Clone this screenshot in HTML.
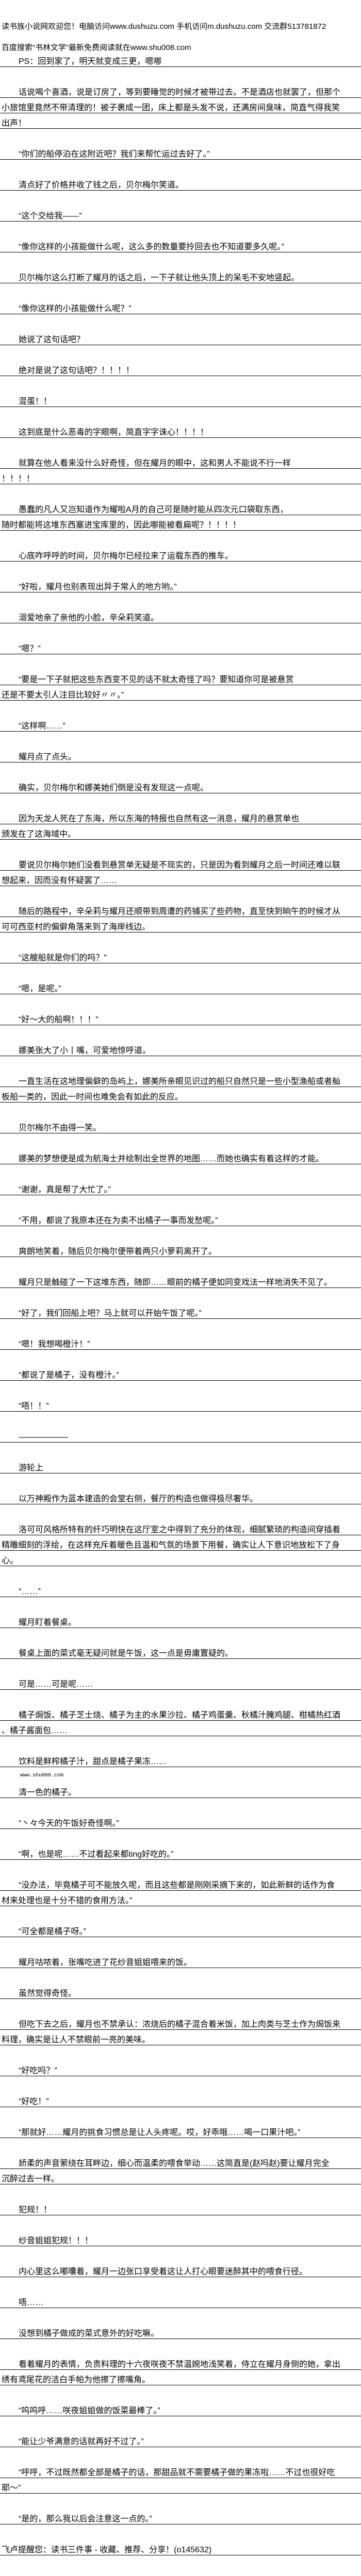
<!DOCTYPE html>
<html><head><meta charset="utf-8">
<style>
html{margin:0;padding:0;width:700px;height:5105px;overflow:hidden;background:#fff;}
body{margin:0;padding:0;background:#fff;width:700px;height:5105px;position:relative;overflow:hidden;font-family:"Liberation Sans","Noto Sans CJK SC",sans-serif;color:#000;}
.l{position:absolute;left:0;width:700px;height:30px;box-sizing:border-box;border-bottom:1px solid #000;font-size:16px;line-height:18px;padding-top:11px;padding-left:3px;white-space:nowrap;overflow:hidden;}
.i{padding-left:36px;}
.h{position:absolute;left:3px;font-size:15px;line-height:18px;height:18px;white-space:nowrap;overflow:hidden;}
.s{position:absolute;left:39px;font-size:10px;line-height:12px;white-space:nowrap;font-family:"Liberation Mono",monospace;}
</style></head><body>
<div class="h" style="top:43px">读书族小说网欢迎您！电脑访问www.dushuzu.com 手机访问m.dushuzu.com 交流群513781872</div>
<div class="h" style="top:84px">百度搜索“书林文学”最新免费阅读就在www.shu008.com</div>
<div class="l i" style="top:100px">PS：回到家了，明天就变成三更，嗯哪</div>
<div class="l i" style="top:160px">话说喝个喜酒，说是订房了，等到要睡觉的时候才被带过去。不是酒店也就罢了，但那个</div>
<div class="l" style="top:190px">小旅馆里竟然不带清理的！被子裹成一团，床上都是头发不说，还满房间臭味，简直气得我笑</div>
<div class="l" style="top:220px">出声！</div>
<div class="l i" style="top:280px">“你们的船停泊在这附近吧？我们来帮忙运过去好了。”</div>
<div class="l i" style="top:340px">清点好了价格并收了钱之后，贝尔梅尔笑道。</div>
<div class="l i" style="top:400px">“这个交给我——”</div>
<div class="l i" style="top:460px">“像你这样的小孩能做什么呢，这么多的数量要拎回去也不知道要多久呢。”</div>
<div class="l i" style="top:520px">贝尔梅尔这么打断了耀月的话之后，一下子就让他头顶上的呆毛不安地竖起。</div>
<div class="l i" style="top:580px">“像你这样的小孩能做什么呢？”</div>
<div class="l i" style="top:640px">她说了这句话吧？</div>
<div class="l i" style="top:700px">绝对是说了这句话吧？！！！！</div>
<div class="l i" style="top:760px">混蛋！！</div>
<div class="l i" style="top:820px">这到底是什么恶毒的字眼啊，简直字字诛心！！！！</div>
<div class="l i" style="top:880px">就算在他人看来没什么好奇怪，但在耀月的眼中，这和男人不能说不行一样</div>
<div class="l" style="top:910px">！！！！</div>
<div class="l i" style="top:970px">愚蠢的凡人又岂知道作为耀啦A月的自己可是随时能从四次元口袋取东西，</div>
<div class="l" style="top:1000px">随时都能将这堆东西塞进宝库里的，因此哪能被看扁呢？！！！！</div>
<div class="l i" style="top:1060px">心底咋呼呼的时间，贝尔梅尔已经拉来了运载东西的推车。</div>
<div class="l i" style="top:1120px">“好啦，耀月也别表现出异于常人的地方哟。”</div>
<div class="l i" style="top:1180px">溺爱地亲了亲他的小脸，辛朵莉笑道。</div>
<div class="l i" style="top:1240px">“嗯？”</div>
<div class="l i" style="top:1300px">“要是一下子就把这些东西变不见的话不就太奇怪了吗？要知道你可是被悬赏</div>
<div class="l" style="top:1330px">还是不要太引人注目比较好〃〃。”</div>
<div class="l i" style="top:1390px">“这样啊……”</div>
<div class="l i" style="top:1450px">耀月点了点头。</div>
<div class="l i" style="top:1510px">确实，贝尔梅尔和娜美她们倒是没有发现这一点呢。</div>
<div class="l i" style="top:1570px">因为天龙人死在了东海，所以东海的特报也自然有这一消息，耀月的悬赏单也</div>
<div class="l" style="top:1600px">颁发在了这海域中。</div>
<div class="l i" style="top:1660px">要说贝尔梅尔她们没看到悬赏单无疑是不现实的，只是因为看到耀月之后一时间还难以联</div>
<div class="l" style="top:1690px">想起来，因而没有怀疑罢了……</div>
<div class="l i" style="top:1750px">随后的路程中，辛朵莉与耀月还顺带到周遭的药铺买了些药物，直至快到晌午的时候才从</div>
<div class="l" style="top:1780px">可可西亚村的偏僻角落来到了海岸线边。</div>
<div class="l i" style="top:1840px">“这艘船就是你们的吗？”</div>
<div class="l i" style="top:1900px">“嗯，是呢。”</div>
<div class="l i" style="top:1960px">“好～大的船啊！！！”</div>
<div class="l i" style="top:2020px">娜美张大了小丨嘴，可爱地惊呼道。</div>
<div class="l i" style="top:2080px">一直生活在这地理偏僻的岛屿上，娜美所亲眼见识过的船只自然只是一些小型渔船或者舢</div>
<div class="l" style="top:2110px">板船一类的，因此一时间也难免会有如此的反应。</div>
<div class="l i" style="top:2170px">贝尔梅尔不由得一笑。</div>
<div class="l i" style="top:2230px">娜美的梦想便是成为航海士并绘制出全世界的地图……而她也确实有着这样的才能。</div>
<div class="l i" style="top:2290px">“谢谢，真是帮了大忙了。”</div>
<div class="l i" style="top:2350px">“不用，都说了我原本还在为卖不出橘子一事而发愁呢。”</div>
<div class="l i" style="top:2410px">爽朗地笑着，随后贝尔梅尔便带着两只小萝莉离开了。</div>
<div class="l i" style="top:2470px">耀月只是触碰了一下这堆东西，随即……眼前的橘子便如同变戏法一样地消失不见了。</div>
<div class="l i" style="top:2530px">“好了，我们回船上吧？马上就可以开始午饭了呢。”</div>
<div class="l i" style="top:2590px">“嗯！我想喝橙汁！”</div>
<div class="l i" style="top:2650px">“都说了是橘子，没有橙汁。”</div>
<div class="l i" style="top:2710px">“唔！！”</div>
<div class="l i" style="top:2770px">——————</div>
<div class="l i" style="top:2830px">游轮上</div>
<div class="l i" style="top:2890px">以万神殿作为蓝本建造的会堂右侧，餐厅的构造也做得极尽奢华。</div>
<div class="l i" style="top:2950px">洛可可风格所特有的纤巧明快在这厅室之中得到了充分的体现，细腻繁琐的构造间穿插着</div>
<div class="l" style="top:2980px">精雕细刻的浮绘，在这样充斥着暖色且温和气氛的场景下用餐，确实让人下意识地放松下了身</div>
<div class="l" style="top:3010px">心。</div>
<div class="l i" style="top:3070px">“……”</div>
<div class="l i" style="top:3130px">耀月盯着餐桌。</div>
<div class="l i" style="top:3190px">餐桌上面的菜式毫无疑问就是午饭，这一点是毋庸置疑的。</div>
<div class="l i" style="top:3250px">可是……可是呢……</div>
<div class="l i" style="top:3310px">橘子焗饭、橘子芝士烧、橘子为主的水果沙拉、橘子鸡蛋羹、秋橘汁腌鸡腿、柑橘热红酒</div>
<div class="l" style="top:3340px">、橘子酱面包……</div>
<div class="l i" style="top:3400px">饮料是鲜榨橘子汁，甜点是橘子果冻……</div>
<div class="s" style="top:3441px">www.shu008.com</div>
<div class="l i" style="top:3460px">清一色的橘子。</div>
<div class="l i" style="top:3520px">“丶々今天的午饭好奇怪啊。”</div>
<div class="l i" style="top:3580px">“啊，也是呢……不过看起来都ting好吃的。”</div>
<div class="l i" style="top:3640px">“没办法，毕竟橘子可不能放久呢，而且这些都是刚刚采摘下来的，如此新鲜的话作为食</div>
<div class="l" style="top:3670px">材来处理也是十分不错的食用方法。”</div>
<div class="l i" style="top:3730px">“可全都是橘子呀。”</div>
<div class="l i" style="top:3790px">耀月咕哝着，张嘴吃进了花纱音姐姐喂来的饭。</div>
<div class="l i" style="top:3850px">虽然觉得奇怪。</div>
<div class="l i" style="top:3910px">但吃下去之后，耀月也不禁承认：浓烧后的橘子混合着米饭，加上肉类与芝士作为焗饭来</div>
<div class="l" style="top:3940px">料理，确实是让人不禁眼前一亮的美味。</div>
<div class="l i" style="top:4000px">“好吃吗？”</div>
<div class="l i" style="top:4060px">“好吃！”</div>
<div class="l i" style="top:4120px">“那就好……耀月的挑食习惯总是让人头疼呢。哎，好乖哦……喝一口果汁吧。”</div>
<div class="l i" style="top:4180px">娇柔的声音萦绕在耳畔边，细心而温柔的喂食举动……这简直是(赵吗赵)要让耀月完全</div>
<div class="l" style="top:4210px">沉醉过去一样。</div>
<div class="l i" style="top:4270px">犯规！！</div>
<div class="l i" style="top:4330px">纱音姐姐犯规！！！</div>
<div class="l i" style="top:4390px">内心里这么嘟囔着，耀月一边张口享受着这让人打心眼要迷醉其中的喂食行径。</div>
<div class="l i" style="top:4450px">唔……</div>
<div class="l i" style="top:4510px">没想到橘子做成的菜式意外的好吃嘛。</div>
<div class="l i" style="top:4570px">看着耀月的表情，负责料理的十六夜咲夜不禁温婉地浅笑着，侍立在耀月身侧的她，拿出</div>
<div class="l" style="top:4600px">绣有鸢尾花的洁白手帕为他擦了擦嘴角。</div>
<div class="l i" style="top:4660px">“呜呜呼……咲夜姐姐做的饭菜最棒了。”</div>
<div class="l i" style="top:4720px">“能让少爷满意的话就再好不过了。”</div>
<div class="l i" style="top:4780px">“呼呼，不过既然都全部是橘子的话，那甜品就不需要橘子做的果冻啦……不过也很好吃</div>
<div class="l" style="top:4810px">耶～”</div>
<div class="l i" style="top:4870px">“是的，那么我以后会注意这一点的。”</div>
<div class="l" style="top:4930px">飞卢提醒您：读书三件事 - 收藏、推荐、分享！(o145632)</div>
<div class="l" style="top:4990px">支持飞卢小说网(http://b.faloo.com)原创作品，尽享阅读的喜悦！1</div>
<div class="l" style="top:5020px">51103010402</div>
<div class="h" style="top:5082px">百度搜索“书林文学”最新免费阅读就在www.shu008.com</div>
</body></html>
